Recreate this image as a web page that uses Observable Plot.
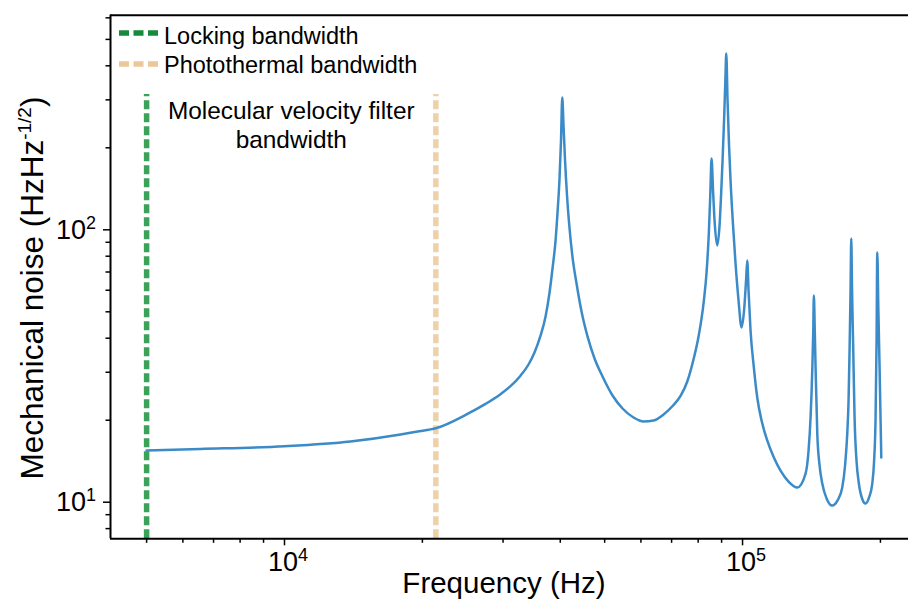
<!DOCTYPE html>
<html>
<head>
<meta charset="utf-8">
<script src="https://cdn.jsdelivr.net/npm/d3@7"></script>
<script src="https://cdn.jsdelivr.net/npm/@observablehq/plot@0.6"></script>
<style>
  html, body { margin: 0; padding: 0; background: #fff; }
  #chart { width: 908px; height: 601px; }
</style>
</head>
<body>
<div id="chart"></div>
<script>
// ---- data ----
const frequency = [
  5000, 6555, 10000, 13930, 17920, 19400, 21440, 24970, 27470, 29620, 31150,
  32750, 34100, 35140, 36220, 37140, 37900, 38470, 39060, 39450, 39850,
  40150, 40400, 40660, 40970, 41380, 41910, 42550, 43410, 44510, 45870,
  47520, 49470, 52020, 54700, 57810, 60790, 63930, 67230, 70340, 73230,
  75740, 78290, 80160, 82330, 83450, 84420, 85020, 85570, 86220, 86870,
  88060, 89080, 89760, 90440, 91120, 91720, 92140, 92740, 93440, 94150,
  95340, 96540, 98010, 99500, 100760, 101780, 102390, 103060, 104100, 105850,
  107670, 110030, 113220, 117040, 121050, 126020, 131650, 137270, 139350, 140760,
  141970, 142690, 143120, 143770, 144350, 145590, 147280, 149290, 152560, 156980,
  161220, 165080, 167420, 169280, 170390, 171250, 172110, 172720, 173410, 174460,
  175610, 177380, 179450, 182360, 185600, 188890, 191960, 193710, 195170, 196160,
  196850, 197940, 199140, 200850
];
const noise = [
  15.48, 15.68, 16.05, 16.71, 17.73, 18.15, 18.70, 21.0, 22.95, 24.92, 26.66,
  29.14, 32.03, 35.45, 40.86, 47.98, 58.86, 72.1, 91.3, 115.7, 154.3,
  212.8, 306, 241.5, 179.7, 133.6, 101.1, 79.1, 63.5, 50.1, 40.6,
  33.7, 28.94, 24.65, 22.08, 20.46, 19.78, 19.95, 20.99, 22.55, 24.55,
  27.74, 33.83, 40.59, 55.01, 69.70, 97.7, 133.6, 182.7, 139.4, 108.2,
  87.6, 103.7, 133.6, 179.7, 251.9, 353.3, 443.8, 297.8, 203.6, 151.4,
  103.7, 75.2, 55.0, 43.8, 50.55, 65.2, 77.1, 59.9, 42.7, 31.2,
  24.23, 19.95, 16.85, 14.59, 13.07, 11.91, 11.32, 12.74, 15.48, 20.46,
  30.44, 42.70, 57.39, 42.70, 31.2, 17.88, 13.64, 11.71, 10.32, 9.72,
  10.15, 11.32, 13.64, 17.88, 23.63, 36.06, 59.86, 92.9, 59.86, 36.06,
  20.46, 14.13, 11.71, 10.32, 9.89, 10.41, 11.71, 14.13, 20.46, 39.24,
  82.5, 50.55, 31.2, 14.59
];
const lockingBandwidth = 5000;        // Hz
const photothermalBandwidth = 21400;  // Hz
const bandLineTop = 314;              // top of the dashed band lines (noise units)
const annotationTop = 305;            // top of annotation text (noise units)
const legendLabels = ["Locking bandwidth", "Photothermal bandwidth"];
const annotationLines = ["Molecular velocity filter", "bandwidth"];
const xMajorTicks = [1e4, 1e5];
const xMinorTicks = [5000, 6000, 7000, 8000, 9000, 20000, 30000, 40000, 50000, 60000, 70000, 80000, 90000, 200000];
const yMajorTicks = [10, 100];
const yMinorTicks = [8, 9, 20, 30, 40, 50, 60, 70, 80, 90, 200, 300, 400, 500, 600];
const xLabel = "Frequency (Hz)";
const yLabelMain = "Mechanical noise (HzHz";
const yLabelSup = "-1/2";
const xDomain = [4170, 230300];
const yDomain = [7.34, 613.5];

// ---- styles ----
const curveColor = "#3b8bc8";
const lockColor = "#3ba25a";
const lockLegendColor = "#17893b";
const photoColor = "#efd1a8";
const photoLegendColor = "#ebc899";
const fontFamily = "'Liberation Sans', Arial, Helvetica, sans-serif";

const data = frequency.map((f, i) => ({f, v: noise[i]}));

const W = 908, H = 601;
const M = {left: 110, right: 0, top: 14.7, bottom: 62.7};
const plot = Plot.plot({
  width: W,
  height: H,
  marginLeft: M.left,
  marginRight: M.right,
  marginTop: M.top,
  marginBottom: M.bottom,
  style: {fontFamily, background: "white", color: "black"},
  x: {type: "log", domain: xDomain, label: null},
  y: {type: "log", domain: yDomain, label: null},
  marks: [
    Plot.ruleX([lockingBandwidth], {y1: yDomain[0], y2: bandLineTop, stroke: lockColor, strokeWidth: 5.5, strokeDasharray: "9,4"}),
    Plot.ruleX([photothermalBandwidth], {y1: yDomain[0], y2: bandLineTop, stroke: photoColor, strokeWidth: 5.5, strokeDasharray: "9,4"}),
    Plot.line(data, {x: "f", y: "v", stroke: curveColor, strokeWidth: 2.5, curve: "monotone-x"}),
    Plot.text([annotationLines.join("\n")], {
      x: Math.sqrt(lockingBandwidth * photothermalBandwidth), y: annotationTop,
      text: d => d, fontSize: 24.4, lineAnchor: "top", lineHeight: 1.19, textAnchor: "middle", fill: "black"
    }),
    Plot.axisX({ticks: xMajorTicks, tickFormat: () => "", tickSize: 7, strokeWidth: 1.5, label: null}),
    Plot.axisX({ticks: xMinorTicks, tickFormat: () => "", tickSize: 4.5, strokeWidth: 1.5, label: null}),
    Plot.axisY({ticks: yMajorTicks, tickFormat: () => "", tickSize: 7, strokeWidth: 1.5, label: null}),
    Plot.axisY({ticks: yMinorTicks, tickFormat: () => "", tickSize: 4.5, strokeWidth: 1.5, label: null}),
    Plot.ruleY([yDomain[0], yDomain[1]], {stroke: "black", strokeWidth: 2}),
    Plot.ruleX([xDomain[0]], {stroke: "black", strokeWidth: 2})
  ]
});

const svg = d3.select(plot);

// scales from the plot (fallback to an equivalent d3 scale)
const xs = (plot.scale && plot.scale("x")) ? plot.scale("x").apply : d3.scaleLog(xDomain, [M.left, W - M.right]);
const ys = (plot.scale && plot.scale("y")) ? plot.scale("y").apply : d3.scaleLog(yDomain, [H - M.bottom, M.top]);

// major tick labels as 10 with a raised exponent
xMajorTicks.forEach(t => {
  const e = String(Math.round(Math.log10(t)));
  const lab = svg.append("text")
    .attr("x", xs(t) + 4).attr("y", 571)
    .attr("text-anchor", "middle")
    .attr("font-family", fontFamily).attr("font-size", 27).attr("fill", "black");
  lab.append("tspan").text("10");
  lab.append("tspan").attr("font-size", 18).attr("dy", -10).text(e);
});
yMajorTicks.forEach(t => {
  const e = String(Math.round(Math.log10(t)));
  const lab = svg.append("text")
    .attr("x", 96).attr("y", ys(t) + 9.5)
    .attr("text-anchor", "end")
    .attr("font-family", fontFamily).attr("font-size", 27).attr("fill", "black");
  lab.append("tspan").text("10");
  lab.append("tspan").attr("font-size", 18).attr("dy", -10).text(e);
});

// axis labels
svg.append("text")
  .attr("x", 504).attr("y", 593)
  .attr("text-anchor", "middle")
  .attr("font-family", fontFamily).attr("font-size", 29.5).attr("fill", "black")
  .text(xLabel);

const yl = svg.append("text")
  .attr("transform", "translate(43,288) rotate(-90)")
  .attr("text-anchor", "middle")
  .attr("font-family", fontFamily).attr("font-size", 31.5).attr("fill", "black");
yl.append("tspan").text(yLabelMain);
yl.append("tspan").attr("font-size", 19).attr("dy", -12).text(yLabelSup);
yl.append("tspan").attr("font-size", 31.5).attr("dy", 12).text(")");

// legend
const legendColors = [lockLegendColor, photoLegendColor];
const legendY = [33, 64];
const textY = [44, 73];
legendLabels.forEach((lab, i) => {
  svg.append("line")
    .attr("x1", 119).attr("x2", 159).attr("y1", legendY[i]).attr("y2", legendY[i])
    .attr("stroke", legendColors[i]).attr("stroke-width", 5.5).attr("stroke-dasharray", "10,4.5");
  svg.append("text")
    .attr("x", 164).attr("y", textY[i])
    .attr("text-anchor", "start")
    .attr("font-family", fontFamily).attr("font-size", 23.5).attr("fill", "black")
    .text(lab);
});

document.getElementById("chart").appendChild(plot);
</script>
</body>
</html>
